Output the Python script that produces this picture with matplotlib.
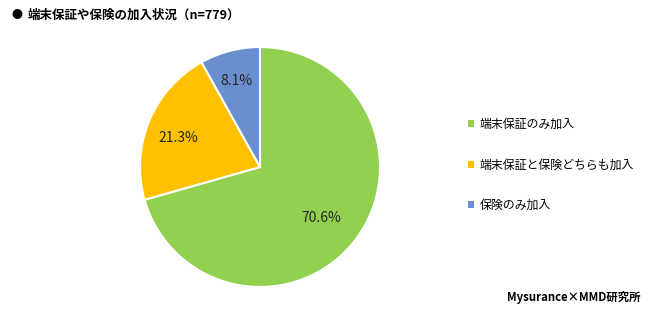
import matplotlib.pyplot as plt
import numpy as np
from matplotlib.patches import Patch

plt.rcParams['font.family'] = ['Noto Sans CJK JP', 'DejaVu Sans']

labels = ['端末保証のみ加入', '端末保証と保険どちらも加入', '保険のみ加入']
values = [70.6, 21.3, 8.1]
colors = ['#92D050', '#FFC000', '#6A8FD0']
label_r = [0.64, 0.74, 0.78]

fig = plt.figure(figsize=(6.5, 3.11), dpi=100)
ax = fig.add_axes([0.4 - 0.1846, 0.463 - 0.3859, 0.3692, 0.7718])

wedges, _ = ax.pie(values, colors=colors, startangle=90, counterclock=False,
                   wedgeprops=dict(edgecolor='white', linewidth=1.5))
ax.set_xlim(-1.0, 1.0)
ax.set_ylim(-1.0, 1.0)
ax.set_aspect('equal')

for w, v, r in zip(wedges, values, label_r):
    mid = np.deg2rad((w.theta1 + w.theta2) / 2)
    ax.text(r * np.cos(mid), r * np.sin(mid) - 0.04, f'{v:.1f}%',
            ha='center', va='center', fontsize=10, color='#262626')

handles = [Patch(facecolor=c, edgecolor='none') for c in colors]
fig.legend(handles, labels, loc='center left', bbox_to_anchor=(0.703, 0.47),
           frameon=False, fontsize=8.6, handlelength=0.55, handleheight=0.55,
           handletextpad=0.45, labelspacing=2.3)

fig.text(0.018, 0.952, '●', fontsize=8, va='center', ha='left')
fig.text(0.042, 0.952, '端末保証や保険の加入状況（n=779）', fontsize=9,
         fontweight='bold', va='center', ha='left')
fig.text(0.985, 0.045, 'Mysurance×MMD研究所', fontsize=8.2,
         fontweight='bold', va='center', ha='right')

fig.savefig('out.png', dpi=100)
